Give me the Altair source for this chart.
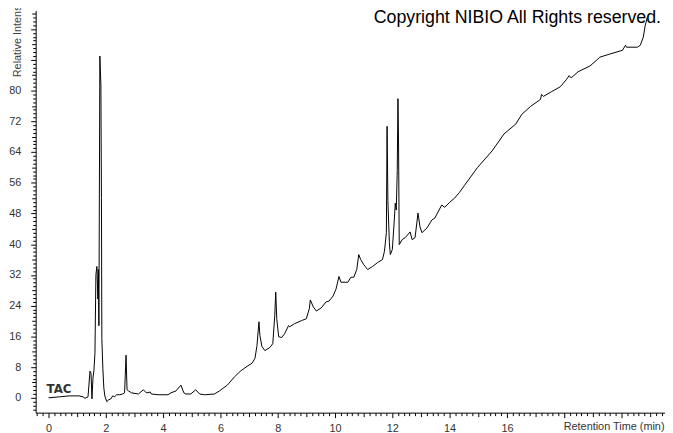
import altair as alt
import pandas as pd

# Retention time (min) and relative intensity
time_min = [
    0.000, 0.379, 0.724, 1.069, 1.207, 1.276, 1.379, 1.448, 1.483, 1.517,
    1.552, 1.586, 1.621, 1.655, 1.690, 1.724, 1.741, 1.759, 1.793, 1.828,
    1.848, 1.862, 1.897, 1.931, 1.966, 2.034, 2.103, 2.172, 2.241, 2.310,
    2.379, 2.483, 2.586, 2.655, 2.707, 2.741, 2.793, 2.897, 3.138, 3.310,
    3.414, 3.552, 3.586, 3.828, 4.172, 4.276, 4.448, 4.621, 4.724, 4.793,
    4.966, 5.138, 5.276, 5.448, 5.793, 5.966, 6.241, 6.483, 6.690, 6.931,
    7.103, 7.207, 7.276, 7.345, 7.379, 7.448, 7.552, 7.724, 7.828, 7.897,
    7.931, 7.966, 8.034, 8.138, 8.241, 8.379, 8.414, 8.586, 8.828, 9.000,
    9.103, 9.138, 9.241, 9.345, 9.517, 9.690, 9.793, 9.931, 10.034, 10.138,
    10.207, 10.448, 10.552, 10.655, 10.759, 10.828, 10.897, 11.000, 11.138, 11.310,
    11.483, 11.655, 11.724, 11.793, 11.817, 11.845, 11.897, 11.931, 12.000, 12.069,
    12.103, 12.138, 12.172, 12.197, 12.217, 12.241, 12.345, 12.448, 12.621, 12.690,
    12.793, 12.897, 12.966, 13.034, 13.207, 13.379, 13.483, 13.724, 13.828, 14.000,
    14.172, 14.345, 14.517, 14.966, 15.483, 15.897, 16.310, 16.517, 16.828, 17.172,
    17.207, 17.276, 17.552, 17.862, 18.069, 18.172, 18.241, 18.483, 18.897, 19.172,
    19.241, 19.586, 20.034, 20.138, 20.172, 20.552, 20.655, 20.759, 20.828, 20.897,
]
intensity = [
    0.0, 0.26, 0.51, 0.51, 0.26, -0.13, 0.26, 6.95, 6.43, -0.26,
    5.14, 7.2, 11.58, 32.15, 34.21, 25.72, 33.44, 18.78, 89.0, 81.5,
    52.2, 15.4, 7.7, 2.6, 0.5, -1.0, -0.5, -0.3, 0.5, 0.3,
    0.8, 0.8, 1.0, 1.3, 11.1, 2.1, 1.8, 1.3, 1.0, 2.1,
    1.3, 1.5, 1.0, 0.8, 0.8, 1.3, 1.8, 3.3, 1.3, 1.0,
    1.0, 2.1, 1.0, 0.8, 1.0, 1.8, 3.3, 5.4, 6.9, 8.2,
    9.0, 10.3, 13.6, 19.8, 16.2, 13.4, 12.3, 13.1, 14.1, 21.4,
    27.5, 20.6, 15.9, 15.7, 16.7, 18.8, 18.5, 19.3, 20.1, 20.6,
    23.2, 25.5, 23.7, 22.6, 23.4, 25.0, 25.2, 26.5, 28.3, 31.6,
    30.1, 30.1, 31.4, 31.4, 33.4, 37.3, 36.0, 34.7, 33.4, 34.2,
    35.2, 36.0, 38.1, 43.0, 70.7, 51.4, 40.4, 37.3, 38.6, 46.3,
    50.7, 48.9, 59.2, 77.9, 66.9, 39.9, 41.2, 41.7, 43.2, 41.2,
    41.7, 48.1, 44.5, 43.0, 44.2, 46.3, 46.8, 50.2, 49.6, 50.9,
    52.0, 53.5, 55.3, 59.9, 64.3, 68.7, 71.3, 73.8, 75.9, 77.7,
    79.0, 78.5, 79.7, 81.0, 82.8, 83.9, 83.3, 84.9, 86.4, 88.2,
    88.7, 89.5, 90.5, 91.8, 91.3, 91.3, 91.8, 93.9, 97.0, 99.0,
]

# Axis ticks
x_tick_values = [round(i * 0.2, 1) for i in range(-2, 108)]
y_tick_values = list(range(-3, 101))

# Trace label
label_text = ["TAC"]
label_time = [-0.07]
label_level = [2.3]

df = pd.DataFrame({"t": time_min, "v": intensity})
df_label = pd.DataFrame({"t": label_time, "v": label_level, "label": label_text})

x_scale = alt.Scale(domain=[-0.448, 21.517], nice=False, zero=False)
y_scale = alt.Scale(domain=[-3.86, 100.84], nice=False, zero=False)

even_x = "abs(datum.value - round(datum.value / 2) * 2) < 0.01"
int_x = "abs(datum.value - round(datum.value)) < 0.01"

x_axis = alt.Axis(
    values=x_tick_values,
    tickCount=1000,
    labelExpr=f"({even_x} && datum.value <= 16.01 && datum.value > -0.1) ? format(datum.value, 'd') : ''",
    tickSize={"condition": [{"test": even_x, "value": 5}, {"test": int_x, "value": 4}], "value": 3},
    labelOverlap=False,
    labelFlush=False,
    labelPadding=5,
    title="Retention Time (min)",
    titleAnchor="end",
    titleAlign="right",
    titleBaseline="middle",
    titleX=636,
    titleY=14,
    titleFontSize=11,
    titleFontWeight="normal",
    titleColor="#333333",
    titleFont="Liberation Sans",
    grid=False,
)

y_axis = alt.Axis(
    values=y_tick_values,
    tickCount=1000,
    labelExpr="(datum.value % 8 === 0 && datum.value >= 0 && datum.value <= 80) ? '' + datum.value : ''",
    tickSize={"condition": [{"test": "datum.value % 8 === 0", "value": 5}, {"test": "datum.value % 4 === 0", "value": 4}], "value": 3},
    labelOverlap=False,
    labelFlush=False,
    labelPadding=10,
    title="Relative Intensity",
    titleAngle=270,
    titleAlign="left",
    titleBaseline="middle",
    titleX=-18,
    titleY=67,
    titleFontSize=11,
    titleFontWeight="normal",
    titleColor="#444444",
    titleFont="Liberation Sans",
    grid=False,
)

line = alt.Chart(df).mark_line(color="black", strokeWidth=1, clip=True).encode(
    x=alt.X("t:Q", scale=x_scale, axis=x_axis),
    y=alt.Y("v:Q", scale=y_scale, axis=y_axis),
    order="t:Q",
)

tac = alt.Chart(df_label).mark_text(
    align="left", baseline="middle", font="DejaVu Sans", fontSize=12,
    fontWeight="bold", color="#333333",
).encode(
    x=alt.X("t:Q", scale=x_scale),
    y=alt.Y("v:Q", scale=y_scale),
    text="label:N",
)

chart = alt.layer(line, tac).properties(
    width=637,
    height=407,
    padding={"left": 28, "top": 0, "right": 0, "bottom": 18},
    autosize=alt.AutoSizeParams(type="none"),
    title=alt.TitleParams(
        "Copyright NIBIO All Rights reserved.",
        anchor="end",
        frame="group",
        orient="top",
        offset=-32,
        baseline="alphabetic",
        font="Liberation Sans",
        fontSize=18,
        fontWeight="normal",
        color="black",
        dx=-4,
        dy=15,
    ),
).configure_view(stroke=None).configure_axis(
    domainColor="black",
    tickColor="black",
    labelColor="#333333",
    labelFont="Liberation Sans",
    labelFontSize=11,
)

chart.save("out.html", embed_options={"renderer": "svg", "actions": False})
